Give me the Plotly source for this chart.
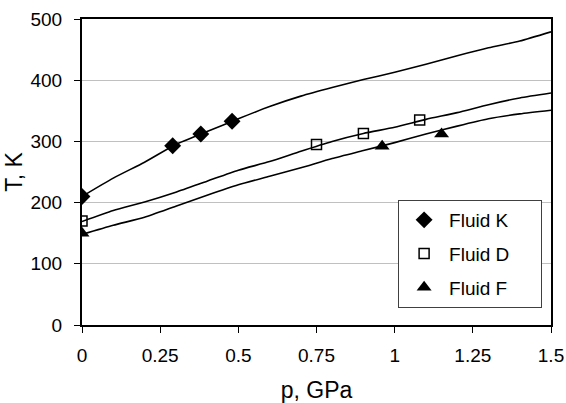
import plotly.graph_objects as go

# Curve data (p in GPa, T in K)
p_curve = [0.0, 0.1, 0.2, 0.3, 0.4, 0.5, 0.6, 0.7, 0.8, 0.9, 1.0, 1.1, 1.2, 1.3, 1.4, 1.5]
T_curve_K = [210, 240, 266, 295, 316, 337, 357, 374, 388, 401, 413, 426, 440, 453, 464, 479]
T_curve_D = [169, 187, 201, 217, 235, 253, 267, 284, 300, 313, 323, 336, 347, 360, 371, 379]
T_curve_F = [148, 163, 176, 194, 212, 229, 243, 257, 272, 285, 298, 312, 325, 337, 345, 351]

# Measured points
p_K = [0.0, 0.29, 0.38, 0.48]
T_K = [210, 293, 312, 333]
p_D = [0.0, 0.75, 0.90, 1.08]
T_D = [170, 295, 313, 335]
p_F = [0.0, 0.96, 1.15]
T_F = [150, 292, 312]

x_ticks = [0, 0.25, 0.5, 0.75, 1, 1.25, 1.5]
x_ticktext = ["0", "0.25", "0.5", "0.75", "1", "1.25", "1.5"]
y_ticks = [0, 100, 200, 300, 400, 500]

FONT = "Liberation Sans, Arial, sans-serif"
PAD = "\u00a0" * 5

fig = go.Figure()
for T in (T_curve_K, T_curve_D, T_curve_F):
    fig.add_trace(go.Scatter(x=p_curve, y=T, mode="lines",
                             line=dict(color="black", width=1.6, shape="spline", smoothing=0.6),
                             showlegend=False, hoverinfo="skip"))

fig.add_trace(go.Scatter(x=p_K, y=T_K, mode="markers", name="Fluid K" + PAD, legendgroup="K",
                         marker=dict(symbol="diamond", size=13, color="black")))
fig.add_trace(go.Scatter(x=p_D, y=T_D, mode="markers", name="Fluid D" + PAD, legendgroup="D",
                         marker=dict(symbol="square-open", size=10, color="black", line=dict(width=1.5))))
fig.add_trace(go.Scatter(x=p_F, y=T_F, mode="markers", name="Fluid F" + PAD, legendgroup="F",
                         marker=dict(symbol="triangle-up", size=13, color="black")))

fig.update_layout(
    width=566, height=403,
    margin=dict(l=82, r=15, t=19, b=78),
    paper_bgcolor="white", plot_bgcolor="white",
    font=dict(family=FONT, size=19, color="black"),
    legend=dict(x=0.674, y=0.4085, xanchor="left", yanchor="top",
                bordercolor="#404040", borderwidth=1, bgcolor="white",
                font=dict(size=19), tracegroupgap=6, itemwidth=40,
                traceorder="grouped"),
    xaxis=dict(range=[0, 1.5], tickvals=x_ticks, ticktext=x_ticktext, automargin=False,
               showgrid=False, zeroline=False, showline=True, linecolor="black", linewidth=2,
               mirror=True, ticks="outside", ticklen=6, tickwidth=1, tickcolor="black",
               ticklabelstandoff=6,
               title=dict(text="p, GPa", standoff=20)),
    yaxis=dict(range=[0, 500], tickvals=y_ticks, automargin=False,
               showgrid=True, gridcolor="#c0c0c0", gridwidth=1, zeroline=False,
               showline=True, linecolor="black", linewidth=2,
               mirror=True, ticks="outside", ticklen=6, tickwidth=1, tickcolor="black",
               ticklabelstandoff=8,
               title=dict(text="T, K", standoff=1)),
)

fig.write_html("out.html", config={"displayModeBar": False},
               post_script="document.body.style.margin='0';")
